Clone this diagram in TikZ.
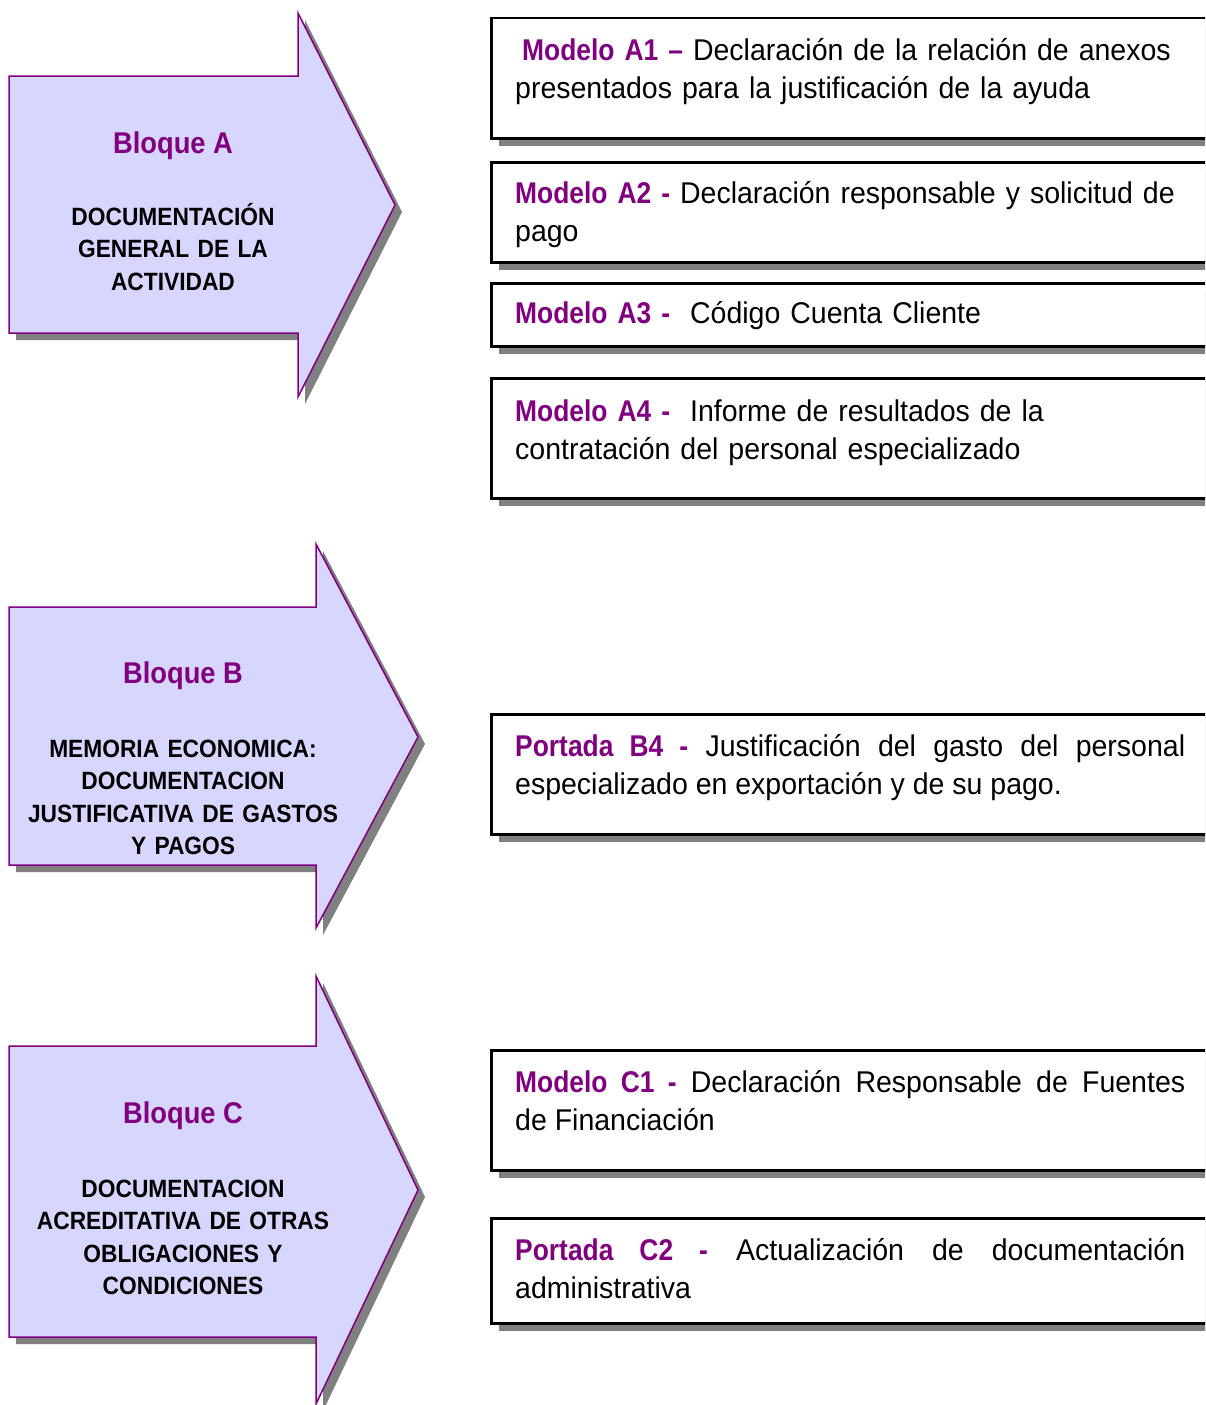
\documentclass[tikz,border=0pt]{standalone}
\usepackage{fontspec}
\usepackage{xcolor}
\usetikzlibrary{shadows}
\setmainfont{Liberation Sans}[FakeStretch=0.95]
\newfontfamily\modfont{Liberation Sans}[FakeStretch=0.88]
\newfontfamily\blqfont{Liberation Sans}[FakeStretch=0.91]
\definecolor{blqpurple}{RGB}{128,0,128}
\definecolor{blqfill}{RGB}{214,214,255}
\definecolor{shadowgray}{RGB}{128,128,128}
\newcommand{\modname}[1]{{\modfont\bfseries\color{blqpurple}#1}}

\begin{document}
\begin{tikzpicture}[x=1pt, y=-1pt,
  blqarrow/.style={draw=blqpurple, line width=1.5pt, fill=blqfill,
    drop shadow={shadow xshift=7pt, shadow yshift=-7pt, fill=shadowgray, opacity=1}},
  blqtitle/.style={anchor=base, inner sep=0pt, font=\blqfont\bfseries\fontsize{30}{33}\selectfont, text=blqpurple},
  blqdesc/.style={anchor=base, inner sep=0pt, text width=400pt, align=center, font=\blqfont\bfseries\fontsize{25}{32.5}\selectfont},
  modbox/.style={draw=black, line width=2.5pt, fill=white, anchor=north west, minimum width=760pt, inner sep=0pt,
    drop shadow={shadow xshift=8pt, shadow yshift=-8pt, fill=shadowgray, opacity=1}},
  modtext/.style={anchor=base west, inner sep=0pt, text width=670pt, font=\fontsize{30}{38}\selectfont}
]

\clip (0,0) rectangle (1205,1405);

% Block arrows
\foreach \n/\ht/\bt/\bb/\hb/\bx/\tx/\ty in {A/13/76/333/397/298/395/205, B/544/607/865/928/316/418/737, C/976/1046/1337/1404/316/418/1190}
\draw[blqarrow] (9,\bt) -- (\bx,\bt) -- (\bx,\ht) -- (\tx,\ty) -- (\bx,\hb) -- (\bx,\bb) -- (9,\bb) -- cycle;

% Block labels
\node[blqtitle] (tA) at (173,153) {Bloque A};
\node[blqdesc] (dA) at (173,225) {DOCUMENTACIÓN\\GENERAL DE LA\\ACTIVIDAD};
\node[blqtitle] (tB) at (183,683) {Bloque B};
\node[blqdesc] (dB) at (183,757) {MEMORIA ECONOMICA:\\DOCUMENTACION\\JUSTIFICATIVA DE GASTOS\\Y PAGOS};
\node[blqtitle] (tC) at (183,1123) {Bloque C};
\node[blqdesc] (dC) at (183,1197) {DOCUMENTACION\\ACREDITATIVA DE OTRAS\\OBLIGACIONES Y\\CONDICIONES};

% Document boxes
\foreach \n/\t/\b in {A1/17/137, A2/161/261, A3/282/345, A4/377/497, B4/713/833, C1/1049/1169, C2/1217/1322}
\node[modbox, minimum height={\b-\t}] (box\n) at (490,\t) {};

% Box texts
\node[modtext, align=left] (txtA1) at (515,60) {\hspace*{7pt}\modname{Modelo A1 –} Declaración de la relación de anexos\\presentados para la justificación de la ayuda};
\node[modtext, align=left] (txtA2) at (515,203) {\modname{Modelo A2 -} Declaración responsable y solicitud de\\pago};
\node[modtext, align=left] (txtA3) at (515,323) {\modname{Modelo A3 -}\ \ Código Cuenta Cliente};
\node[modtext, align=left] (txtA4) at (515,421) {\modname{Modelo A4 -}\ \ Informe de resultados de la\\contratación del personal especializado};
\node[modtext, align=justify] (txtB4) at (515,756) {\modname{Portada B4 -} Justificación del gasto del personal\linebreak especializado en exportación y de su pago.};
\node[modtext, align=justify] (txtC1) at (515,1092) {\modname{Modelo C1 -} Declaración Responsable de Fuentes\linebreak de Financiación};
\node[modtext, align=justify] (txtC2) at (515,1260) {\modname{Portada C2 -} Actualización de documentación\linebreak administrativa};

\end{tikzpicture}
\end{document}
